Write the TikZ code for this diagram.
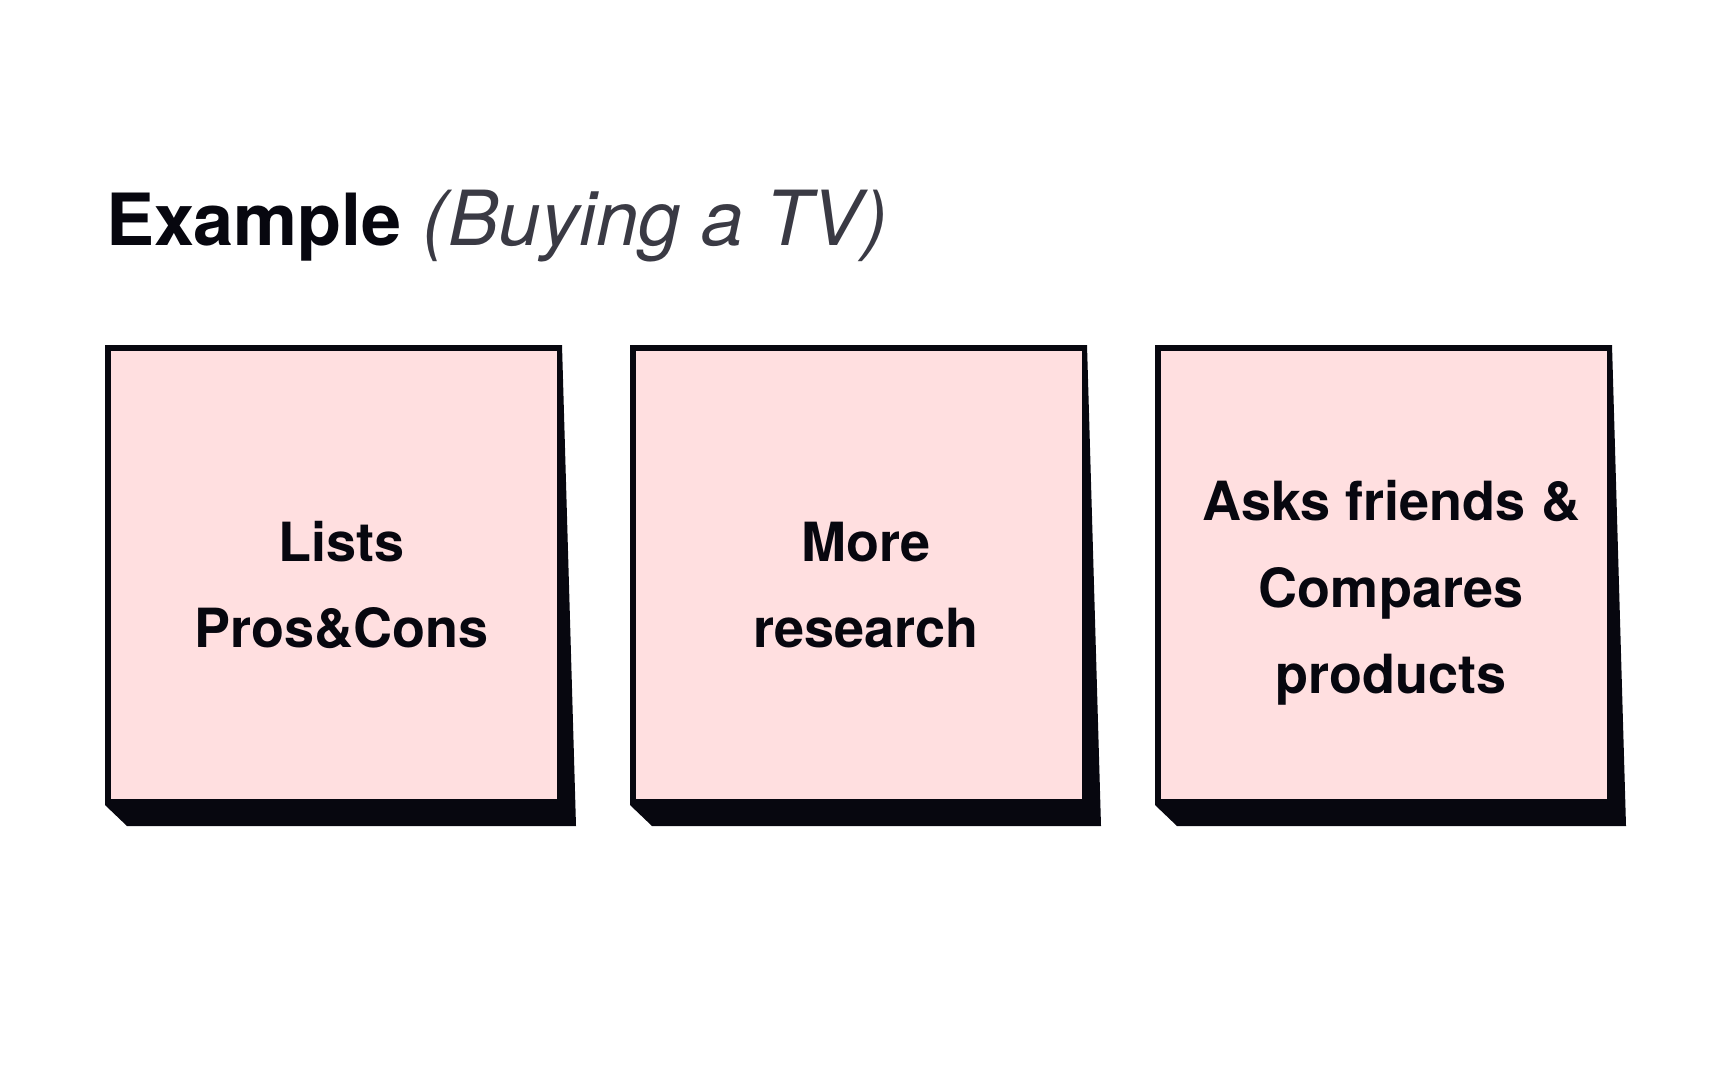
\documentclass[tikz,border=0pt]{standalone}
\usepackage{fontspec}
\setmainfont{TeX Gyre Heros}
\usetikzlibrary{calc}
\definecolor{ink}{HTML}{07070F}
\definecolor{notepink}{HTML}{FFDFE0}
\definecolor{subgray}{HTML}{3A3A44}
\tikzset{
  notebox/.style={fill=notepink, draw=none, minimum width=446pt, minimum height=448pt, inner sep=0pt, anchor=north west},
  notetext/.style={align=center, text=ink, font=\fontsize{54}{86.5}\selectfont\bfseries},
}
\begin{document}
\begin{tikzpicture}[x=1pt,y=-1pt]
\useasboundingbox (0,0) rectangle (1728,1080);
\node[anchor=base west, inner sep=0pt] (title) at (106,245)
  {\textcolor{ink}{\fontsize{72}{80}\selectfont\bfseries Example}\hspace{21pt}\textcolor{subgray}{\fontsize{76}{80}\selectfont\itshape (Buying a TV)}};
\foreach \i/\x/\dy/\txt in {1/105/10/{Lists\\Pros\&Cons}, 2/630/10/{More\\research}, 3/1155/18/{Asks friends \&\\Compares\\products}} {
  \fill[ink] (\x,345) -- ++(457,0) -- ++(14,481) -- ++(-449,0) -- ++(-22,-21) -- cycle;
  \node[notebox] (b\i) at (\x+6,351) {};
  \node[notetext] (t\i) at ($(b\i.center)+(7,\dy)$) {\txt};
}
\end{tikzpicture}
\end{document}
